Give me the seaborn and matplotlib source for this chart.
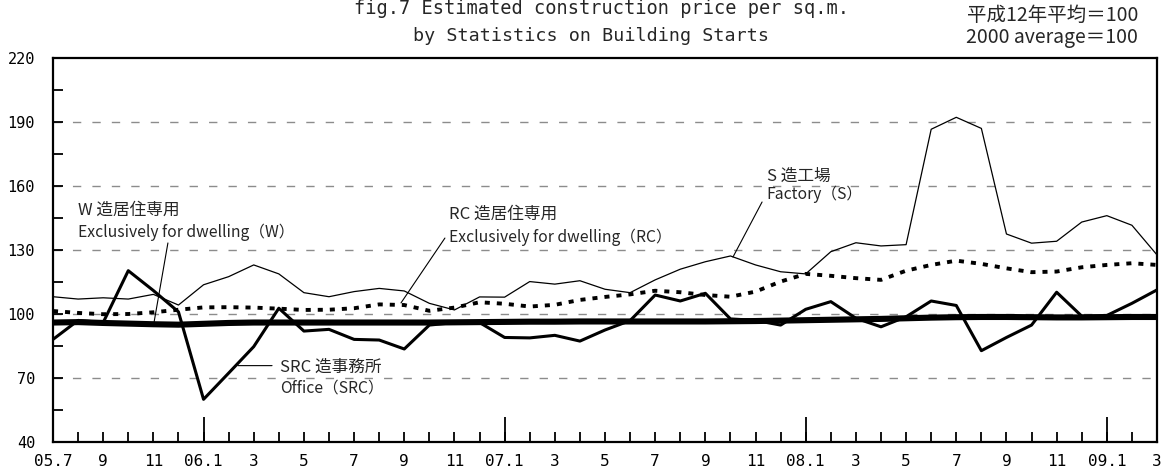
"""
plot.py
Estimated construction price per sq.m. (index, 2000 average = 100), 2005.7 - 2009.3.
Run: python3 plot.py
"""
import numpy as np
import pandas as pd
import matplotlib
matplotlib.use("Agg")
import matplotlib.pyplot as plt
import seaborn as sns

# tick labels, one every two months starting 2005.7
TICK_LABELS = ["05.7", "9", "11", "06.1", "3", "5", "7", "9", "11", "07.1", "3", "5",
               "7", "9", "11", "08.1", "3", "5", "7", "9", "11", "09.1", "3"]

# monthly index values, 2005.7 .. 2009.3 (45 months)
w_dwelling = [96.0, 96.2, 95.8, 95.5, 95.2, 95.0, 95.4, 95.8, 96.0, 96.0,
              96.0, 96.0, 96.0, 96.0, 96.0, 96.0, 96.1, 96.2, 96.3, 96.4,
              96.4, 96.5, 96.5, 96.5, 96.5, 96.5, 96.5, 96.6, 96.7, 96.9,
              97.1, 97.3, 97.5, 97.7, 98.0, 98.3, 98.5, 98.6, 98.6, 98.5,
              98.4, 98.4, 98.5, 98.6, 98.6]
rc_dwelling = [101.4, 100.5, 99.9, 100.0, 100.8, 102.0, 103.1, 103.2, 103.0, 102.5,
               101.9, 102.0, 102.7, 104.5, 104.2, 101.5, 103.0, 105.5, 104.8, 103.5,
               104.3, 106.6, 108.0, 109.2, 110.9, 110.2, 108.9, 108.1, 110.5, 115.2,
               118.8, 117.9, 116.8, 116.0, 120.3, 123.0, 125.0, 123.5, 121.4, 119.6,
               119.9, 121.9, 123.0, 123.8, 123.0]
s_factory = [108.1, 107.0, 107.6, 107.0, 109.2, 104.2, 113.7, 117.5, 123.0, 118.8,
             110.0, 108.1, 110.5, 112.0, 110.8, 105.0, 101.9, 108.0, 107.9, 115.2,
             114.0, 115.6, 111.6, 110.0, 116.0, 121.0, 124.5, 127.2, 123.0, 119.8,
             118.8, 129.2, 133.4, 131.9, 132.5, 186.6, 192.2, 187.0, 137.5, 133.2,
             134.1, 143.1, 146.1, 141.6, 127.7]
src_office = [88.1, 97.0, 96.0, 120.3, 111.0, 101.0, 60.0, 72.3, 84.7, 102.7,
              92.0, 92.8, 88.1, 87.8, 83.6, 94.8, 96.0, 96.0, 89.0, 88.8,
              90.0, 87.3, 92.5, 96.9, 108.9, 106.1, 109.7, 97.7, 97.0, 94.8,
              102.2, 105.8, 98.0, 94.0, 98.7, 106.1, 104.0, 82.8, 89.0, 94.8,
              110.2, 99.0, 99.3, 105.0, 111.3]

sns.set_theme(style="white")
plt.rcParams["font.family"] = ["Noto Sans CJK JP", "DejaVu Sans"]
plt.rcParams["xtick.bottom"] = True
plt.rcParams["ytick.left"] = True
MONO = ["DejaVu Sans Mono", "Noto Sans CJK JP"]

month = np.arange(len(w_dwelling))
df = pd.DataFrame({"month": month, "W": w_dwelling, "RC": rc_dwelling,
                   "S": s_factory, "SRC": src_office})

fig = plt.figure(figsize=(11.68, 4.76), dpi=100)
ax = fig.add_axes([53 / 1168, 34 / 476, 1104 / 1168, 384 / 476])

sns.lineplot(data=df, x="month", y="S", ax=ax, color="black", lw=0.9)
sns.lineplot(data=df, x="month", y="RC", ax=ax, color="black", lw=2.8,
             linestyle=(0, (1.3, 1.8)))
sns.lineplot(data=df, x="month", y="SRC", ax=ax, color="black", lw=2.2)
sns.lineplot(data=df, x="month", y="W", ax=ax, color="black", lw=4.4)

ax.set_xlim(0, 44)
ax.set_ylim(40, 220)
ax.set_xlabel("")
ax.set_ylabel("")

# y axis: labelled every 30, small ticks in between, dashed grid
ax.set_yticks(np.arange(40, 221, 30))
ax.set_yticks(np.arange(55, 221, 30), minor=True)
for v in range(70, 220, 30):
    ax.axhline(v, color="#8c8c8c", lw=1.0, linestyle=(0, (6, 8)), zorder=0)

# x axis: tick every month, label every two, long tick for January
ax.set_xticks(month)
ax.set_xticklabels([TICK_LABELS[i // 2] if i % 2 == 0 else "" for i in month])
ax.xaxis.remove_overlapping_locs = False
ax.set_xticks([6, 18, 30, 42], minor=True)

ax.tick_params(axis="both", which="both", bottom=True, left=True, top=False, right=False)
ax.tick_params(axis="both", which="major", direction="in", length=7, width=1.3,
               color="black", labelsize=11.5, labelcolor="black")
ax.tick_params(axis="y", which="minor", direction="in", length=7, width=1.3, color="black")
ax.tick_params(axis="x", which="minor", direction="in", length=18, width=1.3, color="black")
ax.tick_params(axis="y", which="major", pad=13, labelsize=11)
ax.tick_params(axis="x", which="major", pad=9)
for lab in ax.get_xticklabels() + ax.get_yticklabels():
    lab.set_family(MONO)

for sp in ax.spines.values():
    sp.set_color("black")
    sp.set_linewidth(1.6)

# series labels with leader lines
lead = dict(arrowstyle="-", color="black", lw=0.8, shrinkA=0, shrinkB=0)
labels = [
    (1.0, 148.8, 138.4, "W 造居住専用", "Exclusively for dwelling（W）", (4.58, 133.3), (4.03, 96.3)),
    (15.8, 146.9, 136.1, "RC 造居住専用", "Exclusively for dwelling（RC）", (15.62, 135.6), (13.87, 105.2)),
    (28.45, 164.7, 156.3, "S 造工場", "Factory（S）", (28.26, 152.5), (27.1, 126.7)),
    (9.05, 75.2, 65.3, "SRC 造事務所", "Office（SRC）", (8.73, 75.8), (7.37, 75.8)),
]
for x, y1, y2, jp, en, p0, p1 in labels:
    ax.text(x, y1, jp, fontsize=12, va="center", ha="left")
    ax.text(x, y2, en, fontsize=11.3, va="center", ha="left")
    ax.annotate("", xy=p1, xytext=p0, arrowprops=lead)

fig.text(0.515, 1 - 8 / 476, "fig.7 Estimated construction price per sq.m.",
         family=MONO, fontsize=13.4, ha="center", va="center")
fig.text(0.506, 1 - 36 / 476, "by Statistics on Building Starts",
         family=MONO, fontsize=13.2, ha="center", va="center")
fig.text(1138 / 1168, 1 - 15 / 476, "平成12年平均＝100", fontsize=14, ha="right", va="center")
fig.text(1138 / 1168, 1 - 37 / 476, "2000 average＝100", fontsize=14, ha="right", va="center")

fig.savefig("out.png", dpi=100)
plt.close(fig)
